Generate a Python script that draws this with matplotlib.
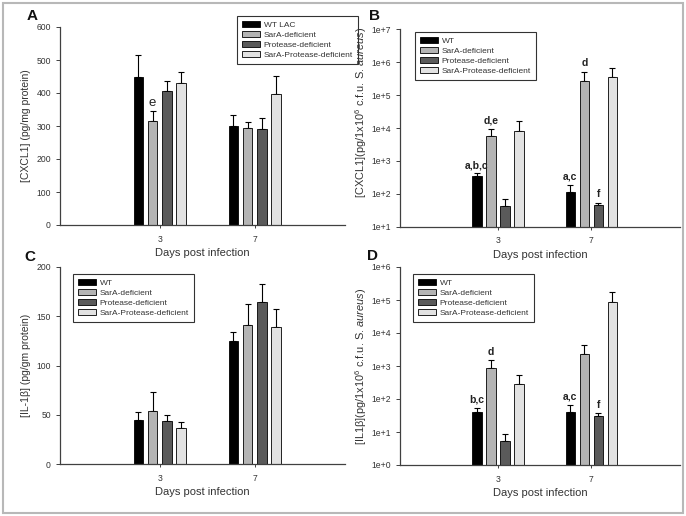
import numpy as np
import matplotlib
matplotlib.use("Agg")
from matplotlib import pyplot as plt
from matplotlib.patches import Rectangle
from matplotlib.ticker import FixedLocator, FuncFormatter, NullLocator

plt.rcParams["font.family"] = ["Liberation Sans", "DejaVu Sans"]
plt.rcParams["mathtext.fontset"] = "custom"
plt.rcParams["mathtext.rm"] = "Liberation Sans"
plt.rcParams["mathtext.it"] = "Liberation Sans:italic"

# data
days = ["3", "7"]
strains = ["WT", "SarA-deficient", "Protease-deficient", "SarA-Protease-deficient"]
colors = ["#000000", "#b4b4b4", "#5a5a5a", "#e2e2e2"]

# A: CXCL1 (pg/mg protein)
cxcl1_mean = [[447, 300], [316, 293], [405, 292], [429, 397]]
cxcl1_err = [[69, 34], [30, 18], [30, 31], [36, 54]]

# B: CXCL1 per 1e6 cfu
cxcl1_cfu_mean = [[355, 113], [5860, 263000], [43, 46], [8150, 355000]]
cxcl1_cfu_top = [[420, 185], [9500, 515000], [71, 54], [16500, 650000]]

# C: IL-1b (pg/gm protein)
il1b_mean = [[44.7, 124.5], [54, 141], [43.3, 164], [36.9, 138.7]]
il1b_err = [[8.3, 9.8], [18.8, 21.4], [6.1, 18.7], [5.7, 18.3]]

# D: IL1b per 1e6 cfu
il1b_cfu_mean = [[40, 41], [870, 2350], [5.2, 30], [280, 89000]]
il1b_cfu_top = [[55, 66], [1480, 4440], [8.5, 38], [550, 175000]]

TXT = "#333333"
SP = "#404040"
offsets = [-0.225, -0.075, 0.075, 0.225]
x = np.arange(len(days))

fig = plt.figure(figsize=(6.86, 5.16), dpi=100)


def make_axes(rect):
    ax = fig.add_axes(rect)
    for s in ["top", "right"]:
        ax.spines[s].set_visible(False)
    for s in ["left", "bottom"]:
        ax.spines[s].set_color(SP)
        ax.spines[s].set_linewidth(0.9)
    ax.tick_params(colors=SP, labelcolor=TXT, labelsize=6.2, length=3, width=0.7)
    ax.tick_params(axis="x", length=2, pad=5)
    ax.set_xticks(x)
    ax.set_xticklabels(days)
    ax.set_xlim(-1.05, 1.95)
    ax.set_xlabel("Days post infection", fontsize=8, color=TXT, labelpad=3)
    return ax


def draw_bars(ax, means, errs):
    for i in range(4):
        ax.bar(x + offsets[i], means[i], width=0.1, color=colors[i],
               edgecolor="black", linewidth=0.6, label=strains[i], zorder=2)
        ax.errorbar(x + offsets[i], means[i], yerr=[np.zeros(2), errs[i]],
                    fmt="none", ecolor="black", elinewidth=0.8, capsize=2.5,
                    capthick=0.8, zorder=1)


def add_legend(ax, labels, xy):
    h, _ = ax.get_legend_handles_labels()
    leg = ax.legend(h, labels, loc="upper left", bbox_to_anchor=xy,
                    bbox_transform=fig.transFigure, fontsize=6, frameon=True,
                    fancybox=False, edgecolor="black", handlelength=2.1,
                    handleheight=0.7, labelspacing=0.25, borderpad=0.6,
                    handletextpad=0.5)
    leg.get_frame().set_linewidth(0.8)
    for t in leg.get_texts():
        t.set_color(TXT)


def log_fmt(v, pos):
    return "1e+%d" % int(round(np.log10(v)))


def log_axis(ax, lo, hi):
    ax.set_yscale("log")
    ax.set_ylim(10.0 ** lo, 10.0 ** hi)
    ax.yaxis.set_major_locator(FixedLocator([10.0 ** k for k in range(lo, hi + 1)]))
    ax.yaxis.set_major_formatter(FuncFormatter(log_fmt))
    ax.yaxis.set_minor_locator(NullLocator())


# A
axA = make_axes([60 / 686, 1 - 225 / 516, 285 / 686, 198 / 516])
draw_bars(axA, cxcl1_mean, cxcl1_err)
axA.set_ylim(0, 600)
axA.set_yticks(range(0, 601, 100))
axA.set_ylabel("[CXCL1] (pg/mg protein)", fontsize=7.5, color=TXT)
axA.yaxis.set_label_coords(-0.1, 0.5)
axA.text(x[0] + offsets[1], 350, "e", ha="center", va="bottom", fontsize=9.5, color="#222222")
add_legend(axA, ["WT LAC"] + strains[1:], (233 / 686, 1 - 12 / 516))

# B
axB = make_axes([400 / 686, 1 - 226.7 / 516, 280 / 686, 197.4 / 516])
log_axis(axB, 1, 7)
cfu_err_B = [[t[j] - m[j] for j in range(2)] for m, t in zip(cxcl1_cfu_mean, cxcl1_cfu_top)]
draw_bars(axB, cxcl1_cfu_mean, cfu_err_B)
axB.set_ylabel(r"[CXCL1](pg/1x10$^6$ c.f.u. S. $\it{aureus}$)", fontsize=7.9, color=TXT)
axB.yaxis.set_label_coords(-0.11, 0.58)
add_legend(axB, strains, (411 / 686, 1 - 28 / 516))
for (g, s, lab) in [(0, 0, "a,b,c"), (0, 1, "d,e"), (1, 0, "a,c"), (1, 1, "d"), (1, 2, "f")]:
    axB.text(x[g] + offsets[s], cxcl1_cfu_top[s][g] * 1.25, lab, ha="center",
             va="bottom", fontsize=7.5, fontweight="bold", color="#222222")

# C
axC = make_axes([60 / 686, 1 - 464 / 516, 285 / 686, 197 / 516])
draw_bars(axC, il1b_mean, il1b_err)
axC.set_ylim(0, 200)
axC.set_yticks(range(0, 201, 50))
axC.set_ylabel("[IL-1β] (pg/gm protein)", fontsize=7.5, color=TXT)
axC.yaxis.set_label_coords(-0.1, 0.5)
add_legend(axC, strains, (69 / 686, 1 - 270 / 516))

# D
axD = make_axes([400 / 686, 1 - 465 / 516, 280 / 686, 198 / 516])
log_axis(axD, 0, 6)
cfu_err_D = [[t[j] - m[j] for j in range(2)] for m, t in zip(il1b_cfu_mean, il1b_cfu_top)]
draw_bars(axD, il1b_cfu_mean, cfu_err_D)
axD.set_ylabel(r"[IL1β](pg/1x10$^6$ c.f.u. S. $\it{aureus}$)", fontsize=7.9, color=TXT)
axD.yaxis.set_label_coords(-0.11, 0.5)
add_legend(axD, strains, (409 / 686, 1 - 270 / 516))
for (g, s, lab) in [(0, 0, "b,c"), (0, 1, "d"), (1, 0, "a,c"), (1, 2, "f")]:
    axD.text(x[g] + offsets[s], il1b_cfu_top[s][g] * 1.25, lab, ha="center",
             va="bottom", fontsize=7.5, fontweight="bold", color="#222222")

# panel letters
for lab, px, py in [("A", 32, 16), ("B", 374, 16), ("C", 30, 257), ("D", 372, 256)]:
    fig.text(px / 686, 1 - py / 516, lab, fontsize=11, fontweight="bold",
             ha="center", va="center", color="#111111")

# outer frame
fig.patches.append(Rectangle((3 / 686, 3 / 516), 680 / 686, 510 / 516,
                             transform=fig.transFigure, fill=False,
                             edgecolor="#b8b8b8", linewidth=1.5))

fig.savefig("out.png", dpi=100)
